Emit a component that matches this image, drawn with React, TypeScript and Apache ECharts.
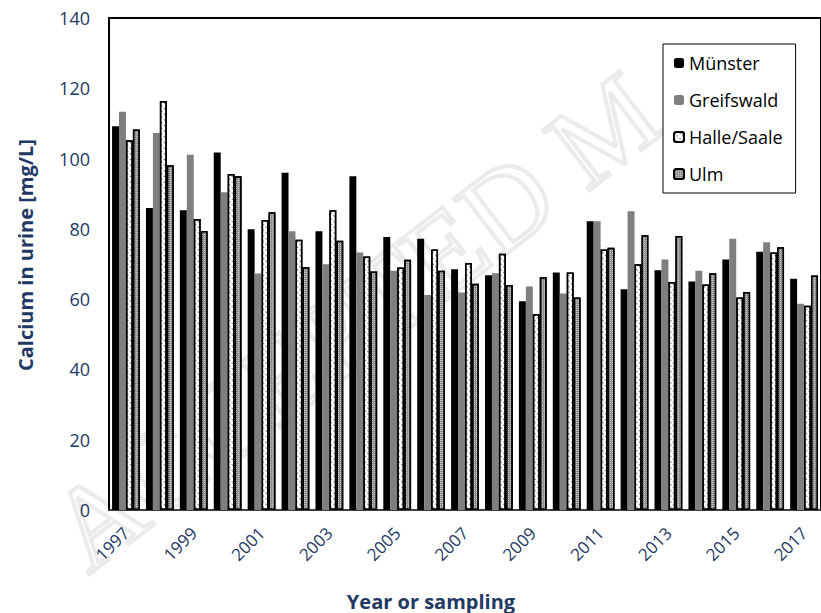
import React, { useEffect, useRef } from "react";
import * as echarts from "echarts";

const years = ["1997","1998","1999","2000","2001","2002","2003","2004","2005","2006","2007","2008","2009","2010","2011","2012","2013","2014","2015","2016","2017"];
const seriesNames = ["Münster", "Greifswald", "Halle/Saale", "Ulm"];
const muenster = [109.2, 85.9, 85.3, 101.7, 79.9, 96.0, 79.3, 95.0, 77.7, 77.2, 68.5, 66.8, 59.4, 67.6, 82.2, 62.8, 68.2, 65.0, 71.3, 73.5, 65.8];
const greifswald = [113.3, 107.3, 101.1, 90.4, 67.3, 79.3, 69.9, 73.3, 68.1, 61.2, 61.9, 67.4, 63.6, 61.6, 82.2, 85.0, 71.3, 68.1, 77.2, 76.2, 58.7];
const halle = [105.2, 116.4, 82.8, 95.6, 82.5, 76.9, 85.3, 72.1, 69.0, 74.1, 70.3, 72.9, 55.8, 67.6, 74.1, 69.9, 64.9, 64.2, 60.5, 73.3, 58.1];
const ulm = [108.3, 98.1, 79.4, 95.0, 84.7, 69.1, 76.6, 67.9, 71.2, 68.1, 64.4, 64.0, 66.2, 60.5, 74.6, 78.2, 78.0, 67.4, 62.0, 74.8, 66.7];
const yTicks = { min: 0, max: 140, interval: 20 };

const navy = "#1F3864";
const font = "'Open Sans', 'Noto Sans', sans-serif";

export default function App() {
  const ref = useRef<HTMLDivElement>(null);
  useEffect(() => {
    if (!ref.current) return;
    const chart = echarts.init(ref.current, null, { renderer: "svg" });
    const values = [muenster, greifswald, halle, ulm];
    const styles: any[] = [
      { color: "#000000" },
      { color: "#7f7f7f" },
      {
        color: "#ffffff",
        borderColor: "#000000",
        borderWidth: 1.5,
        decal: {
          symbol: "rect",
          color: "rgba(0,0,0,0.5)",
          dashArrayX: [[2, 2]],
          dashArrayY: [1, 3],
          rotation: Math.PI / 4,
        },
      },
      {
        color: "#8f8f8f",
        borderColor: "#000000",
        borderWidth: 1.5,
        decal: {
          symbol: "rect",
          symbolSize: 1,
          color: "rgba(255,255,255,0.55)",
          dashArrayX: [1, 1],
          dashArrayY: [1, 1],
        },
      },
    ];
    chart.setOption({
      animation: false,
      backgroundColor: "#ffffff",
      textStyle: { fontFamily: font },
      graphic: [
        {
          type: "text",
          x: 100,
          y: 590,
          rotation: 0.655,
          z: -10,
          silent: true,
          style: {
            text: "ACCEPTED M",
            fontSize: 116,
            fontFamily: "'Liberation Serif', 'DejaVu Serif', serif",
            fill: "rgba(0,0,0,0)",
            stroke: "#ebebeb",
            lineWidth: 4,
            textAlign: "left",
            textVerticalAlign: "bottom",
          },
        },
        {
          type: "text",
          x: 25,
          y: 255,
          rotation: Math.PI / 2,
          style: {
            text: "Calcium in urine [mg/L]",
            fontSize: 20,
            fontWeight: "bold",
            fontFamily: font,
            fill: navy,
            textAlign: "center",
            textVerticalAlign: "middle",
          },
        },
        {
          type: "text",
          x: 431,
          y: 601,
          style: {
            text: "Year or sampling",
            fontSize: 20,
            fontWeight: "bold",
            fontFamily: font,
            fill: navy,
            textAlign: "center",
            textVerticalAlign: "middle",
          },
        },
      ],
      legend: {
        orient: "vertical",
        left: 663,
        top: 44,
        data: seriesNames,
        borderColor: "#000000",
        borderWidth: 1,
        backgroundColor: "#ffffff",
        padding: [10, 13, 10, 10],
        itemGap: 19,
        itemWidth: 10,
        itemHeight: 10,
        textStyle: { fontSize: 18, color: "#000000", fontFamily: font },
      },
      grid: {
        left: 109,
        top: 18,
        width: 719,
        bottom: 103,
        show: true,
        borderColor: "#000000",
        borderWidth: 2,
        backgroundColor: "transparent",
        containLabel: false,
      },
      xAxis: {
        type: "category",
        data: years,
        axisLine: { show: true, lineStyle: { color: "#404040", width: 2 } },
        axisTick: { show: false },
        axisLabel: {
          interval: 1,
          rotate: 45,
          margin: 20,
          fontSize: 17,
          color: navy,
          fontFamily: font,
        },
      },
      yAxis: {
        type: "value",
        min: yTicks.min,
        max: yTicks.max,
        interval: yTicks.interval,
        splitLine: { show: false },
        axisLine: { show: true, lineStyle: { color: "#000000", width: 2 } },
        axisTick: { show: false },
        axisLabel: { margin: 19, fontSize: 18, color: navy, fontFamily: font },
      },
      series: seriesNames.map((name, i) => ({
        name,
        type: "bar",
        data: values[i],
        barGap: "0%",
        barCategoryGap: "18%",
        itemStyle: styles[i],
      })),
    });
    return () => chart.dispose();
  }, []);
  return (
    <div
      ref={ref}
      style={{ width: 821, height: 613, position: "absolute", left: 0, top: 0 }}
    />
  );
}
